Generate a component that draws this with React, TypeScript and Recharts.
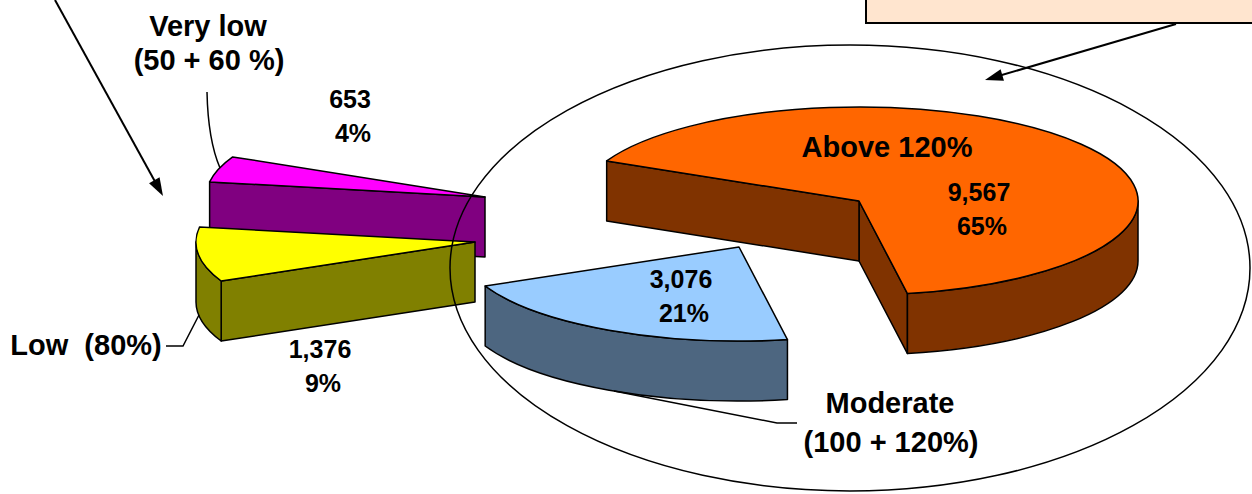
import React from 'react';
import { PieChart, Pie } from 'recharts';

// ---------- data ----------
const CATEGORIES = ['Above 120%', 'Very low', 'Low', 'Moderate'];
const COUNTS = [9567, 653, 1376, 3076];
const CATEGORY_LABEL_LINES = [
  ['Above 120%'],
  ['Very low', '(50 + 60 %)'],
  ['Low  (80%)'],
  ['Moderate', '(100 + 120%)'],
];

// ---------- style ----------
const TOP_COLORS = ['#FF6600', '#FF00FF', '#FFFF00', '#99CCFF'];
const SIDE_COLORS = ['#803300', '#800080', '#808000', '#4D6680'];
const EXPLODE = [
  [0, 0],
  [-374, -4],
  [-384, 41],
  [-120, 46],
];
const NAME_POS = [
  [887, 157, 0],
  [208, 36, 34],
  [86, 355, 0],
  [890, 413, 39],
];
const VALUE_POS = [
  [979, 201],
  [350, 108],
  [320, 358],
  [681, 288],
];
const W = 1252;
const H = 494;
const K = 94 / 279;
const DEPTH = 60;
const FONT = '"Liberation Sans", Arial, Helvetica, sans-serif';

const chartData = CATEGORIES.map((name, i) => ({ name, value: COUNTS[i] }));

function pt(cx: number, cy: number, r: number, deg: number, dy = 0): [number, number] {
  const a = (deg * Math.PI) / 180;
  return [cx + r * Math.cos(a), cy - r * K * Math.sin(a) + dy];
}

function wallPath(cx: number, cy: number, r: number, a0: number, a1: number) {
  const t0 = pt(cx, cy, r, a0);
  const t1 = pt(cx, cy, r, a1);
  const b1 = pt(cx, cy, r, a1, DEPTH);
  const b0 = pt(cx, cy, r, a0, DEPTH);
  const large = a1 - a0 > 180 ? 1 : 0;
  return `M${t0[0]},${t0[1]} A${r},${r * K} 0 ${large} 0 ${t1[0]},${t1[1]} L${b1[0]},${b1[1]} A${r},${r * K} 0 ${large} 1 ${b0[0]},${b0[1]} Z`;
}

function facePath(ox: number, oy: number, r: number, a: number) {
  const t = pt(ox, oy, r, a);
  return `M${ox},${oy} L${t[0]},${t[1]} L${t[0]},${t[1] + DEPTH} L${ox},${oy + DEPTH} Z`;
}

const renderSlice = (props: any) => {
  const { cx, cy, outerRadius, index, value, percent } = props;
  let s = Math.min(props.startAngle, props.endAngle);
  let e = Math.max(props.startAngle, props.endAngle);
  const ox = cx + EXPLODE[index][0];
  const oy = cy + EXPLODE[index][1];
  const r = outerRadius;
  const side = SIDE_COLORS[index];
  const top = TOP_COLORS[index];
  const parts: React.ReactNode[] = [];

  const rad = (d: number) => (d * Math.PI) / 180;
  if (Math.cos(rad(s)) > 0) {
    parts.push(<path key="fs" d={facePath(ox, oy, r, s)} fill={side} stroke="#000" strokeWidth={1.5} strokeLinejoin="round" />);
  }
  if (Math.cos(rad(e)) < 0) {
    parts.push(<path key="fe" d={facePath(ox, oy, r, e)} fill={side} stroke="#000" strokeWidth={1.5} strokeLinejoin="round" />);
  }
  for (let n = -2; n <= 1; n++) {
    const lo = Math.max(s, 180 + 360 * n);
    const hi = Math.min(e, 360 + 360 * n);
    if (hi - lo > 0.01) {
      parts.push(<path key={`w${n}`} d={wallPath(ox, oy, r, lo, hi)} fill={side} stroke="#000" strokeWidth={1.5} strokeLinejoin="round" />);
    }
  }
  const p0 = pt(ox, oy, r, s);
  const p1 = pt(ox, oy, r, e);
  const large = e - s > 180 ? 1 : 0;
  parts.push(
    <path
      key="top"
      d={`M${ox},${oy} L${p0[0]},${p0[1]} A${r},${r * K} 0 ${large} 0 ${p1[0]},${p1[1]} Z`}
      fill={top}
      stroke="#000"
      strokeWidth={1.5}
      strokeLinejoin="round"
    />
  );

  const [nx, ny, gap] = NAME_POS[index];
  const lines = CATEGORY_LABEL_LINES[index];
  const [vx, vy] = VALUE_POS[index];
  return (
    <g>
      {parts}
      {lines.map((ln, j) => (
        <text
          key={`n${j}`}
          x={nx + (j > 0 ? 1 : 0)}
          y={ny + j * gap}
          textAnchor="middle"
          fontFamily={FONT}
          fontWeight="bold"
          fontSize={29}
          fill="#000"
          style={{ whiteSpace: 'pre' }}
        >
          {ln}
        </text>
      ))}
      <text x={vx} y={vy} textAnchor="middle" fontFamily={FONT} fontWeight="bold" fontSize={25} fill="#000">
        {Number(value).toLocaleString('en-US')}
      </text>
      <text x={vx + 3} y={vy + 34} textAnchor="middle" fontFamily={FONT} fontWeight="bold" fontSize={25} fill="#000">
        {`${Math.round(percent * 100)}%`}
      </text>
    </g>
  );
};

function arrowHead(tipX: number, tipY: number, fromX: number, fromY: number, len = 18, half = 6) {
  const dx = tipX - fromX;
  const dy = tipY - fromY;
  const d = Math.hypot(dx, dy);
  const ux = dx / d;
  const uy = dy / d;
  const bx = tipX - ux * len;
  const by = tipY - uy * len;
  return `M${tipX},${tipY} L${bx - uy * half},${by + ux * half} L${bx + uy * half},${by - ux * half} Z`;
}

export default function App() {
  return (
    <div style={{ position: 'absolute', left: 0, top: 0, width: W, height: H, background: '#fff', overflow: 'hidden' }}>
      <PieChart width={W} height={H} margin={{ top: 0, right: 0, bottom: 0, left: 0 }}>
        <Pie
          data={chartData}
          dataKey="value"
          nameKey="name"
          cx={859}
          cy={201}
          outerRadius={279}
          startAngle={-80}
          endAngle={280}
          fill="none"
          stroke="none"
          isAnimationActive={false}
          labelLine={false}
          label={renderSlice}
        />
      </PieChart>
      <svg
        width={W}
        height={H}
        style={{ position: 'absolute', left: 0, top: 0, pointerEvents: 'none' }}
      >
        {/* peach callout box at top right */}
        <rect x={866} y={-10} width={400} height={33} fill="#FFE5CF" stroke="#000" strokeWidth={2} />
        {/* big annotation ellipse */}
        <ellipse cx={850} cy={268} rx={400} ry={223} fill="none" stroke="#000" strokeWidth={1.5} />
        {/* arrows */}
        <line x1={55} y1={0} x2={158} y2={187} stroke="#000" strokeWidth={2} />
        <path d={arrowHead(163, 196, 55, 0)} fill="#000" />
        <line x1={1176} y1={24} x2={995} y2={77} stroke="#000" strokeWidth={2} />
        <path d={arrowHead(985, 80, 1176, 24)} fill="#000" />
        {/* leader lines */}
        <path d="M207,92 Q208,140 220,168" fill="none" stroke="#000" strokeWidth={1.5} />
        <path d="M166,346 L183,346 L199,315" fill="none" stroke="#000" strokeWidth={1.5} />
        <path d="M797,423 L777,423 L614,391" fill="none" stroke="#000" strokeWidth={1.5} />
      </svg>
    </div>
  );
}
